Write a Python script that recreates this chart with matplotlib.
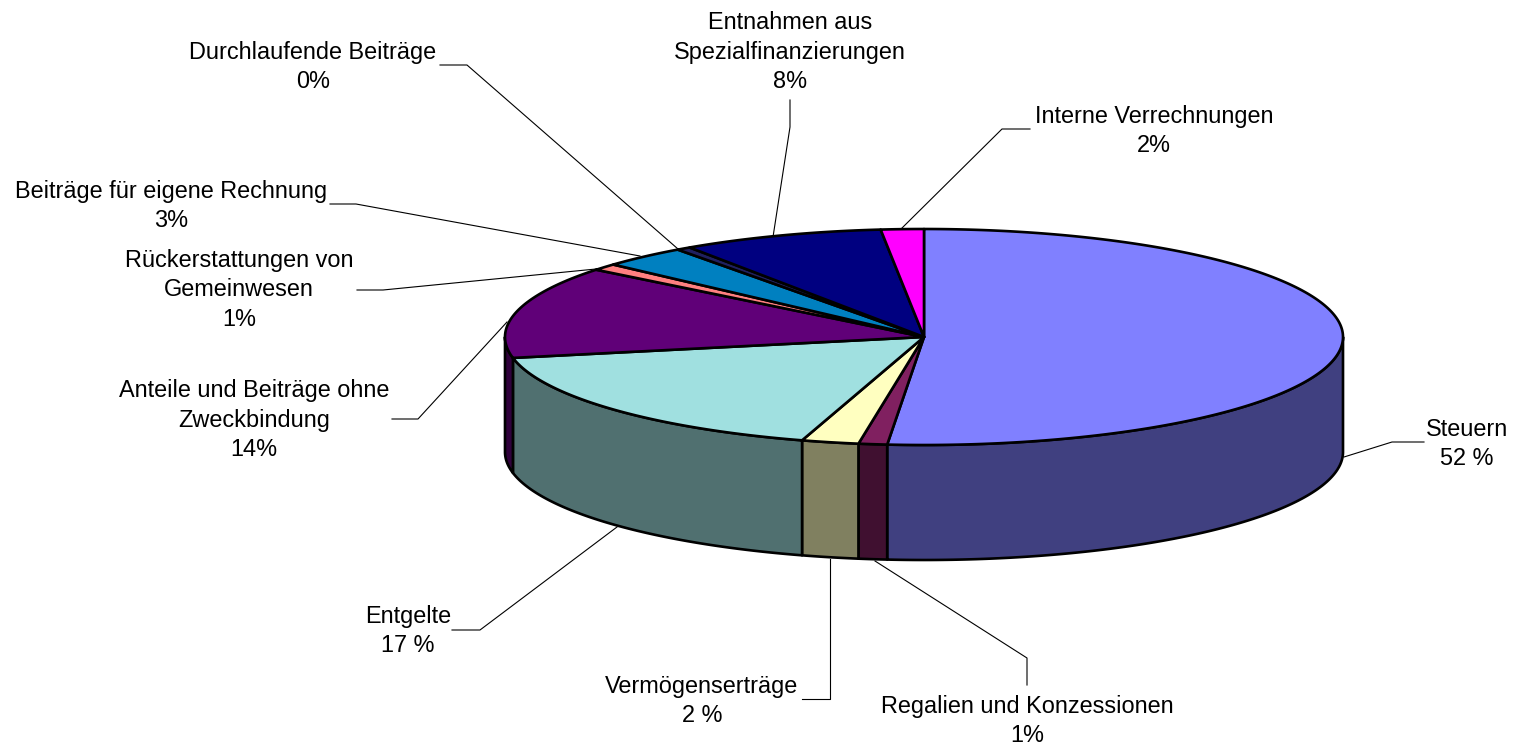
import numpy as np
from matplotlib import pyplot as plt

names = ['Steuern', 'Regalien', 'Vermoegen', 'Entgelte', 'Anteile', 'Rueck',
         'Eigene', 'Durchlaufend', 'Entnahmen', 'Intern']
shares = [51.4, 1.1, 2.2, 17.2, 13.8, 1.0, 3.3, 0.55, 7.8, 1.65]
top_colors = ['#8080FF', '#802060', '#FFFFC0', '#A0E0E0', '#600078', '#FF8080',
              '#0080C0', '#202060', '#000080', '#FF00FF']
side_colors = ['#404080', '#401030', '#808060', '#507070', '#30003C', '#804040',
               '#004060', '#101030', '#000040', '#800080']

labels = ['Steuern\n52 %', 'Regalien und Konzessionen\n1%', 'Vermögenserträge\n2 %',
          'Entgelte\n17 %', 'Anteile und Beiträge ohne\nZweckbindung\n14%',
          'Rückerstattungen von\nGemeinwesen\n1%', 'Beiträge für eigene Rechnung\n3%',
          'Durchlaufende Beiträge\n0%', 'Entnahmen aus\nSpezialfinanzierungen\n8%',
          'Interne Verrechnungen\n2%']
label_pos = [(1467, 444), (1027, 721), (702, 701), (408, 631), (254, 420),
             (239, 290), (171, 206), (313, 67), (790, 52), (1154, 131)]
leaders = [[(1344, 457), (1392, 442), (1424, 442)],
           [(1027, 685), (1027, 658), (875, 561)],
           [(802, 699), (830, 699), (830, 559)],
           [(452, 630), (480, 630), (617, 527)],
           [(392, 419), (418, 419), (507, 322)],
           [(357, 290), (383, 290), (596, 269)],
           [(330, 204), (356, 204), (640, 256)],
           [(440, 65), (467, 65), (678, 249)],
           [(790, 100), (790, 127), (773, 237)],
           [(1030, 129), (1002, 129), (901, 229)]]

cx, cy, rx, ry, depth = 924, 337, 419, 108, 115


def arc(t0, t1, dy=0):
    # angles in degrees, clockwise from the top of the ellipse
    t = np.radians(np.linspace(t0, t1, max(int(abs(t1 - t0) * 4), 2)))
    return cx + rx * np.sin(t), cy + dy - ry * np.cos(t)


plt.rcParams['font.family'] = ['Liberation Sans', 'DejaVu Sans']
fig = plt.figure(figsize=(15.15, 7.46), dpi=100)
ax = fig.add_axes([0, 0, 1, 1])
ax.set_xlim(0, 1515)
ax.set_ylim(746, 0)
ax.axis('off')

for pts in leaders:
    ax.plot([p[0] for p in pts], [p[1] for p in pts], color='black', lw=0.8, zorder=1)

edges = np.concatenate([[0], np.cumsum(shares)]) * 3.6

# side walls, only the front half of the cylinder shows
for i in range(len(shares)):
    t0, t1 = max(edges[i], 90), min(edges[i + 1], 270)
    if t0 >= t1:
        continue
    xt, yt = arc(t0, t1)
    xb, yb = arc(t1, t0, depth)
    ax.fill(np.r_[xt, xb], np.r_[yt, yb], facecolor=side_colors[i],
            edgecolor='black', lw=1.9, joinstyle='round', zorder=2)

# top faces
for i in range(len(shares)):
    x, y = arc(edges[i], edges[i + 1])
    ax.fill(np.r_[cx, x], np.r_[cy, y], facecolor=top_colors[i],
            edgecolor='black', lw=1.9, joinstyle='round', zorder=3)

for text, (x, y) in zip(labels, label_pos):
    ax.text(x, y, text, ha='center', va='center', multialignment='center',
            fontsize=16.9, linespacing=1.38, color='black', zorder=4)

fig.savefig('out.png', dpi=100)
